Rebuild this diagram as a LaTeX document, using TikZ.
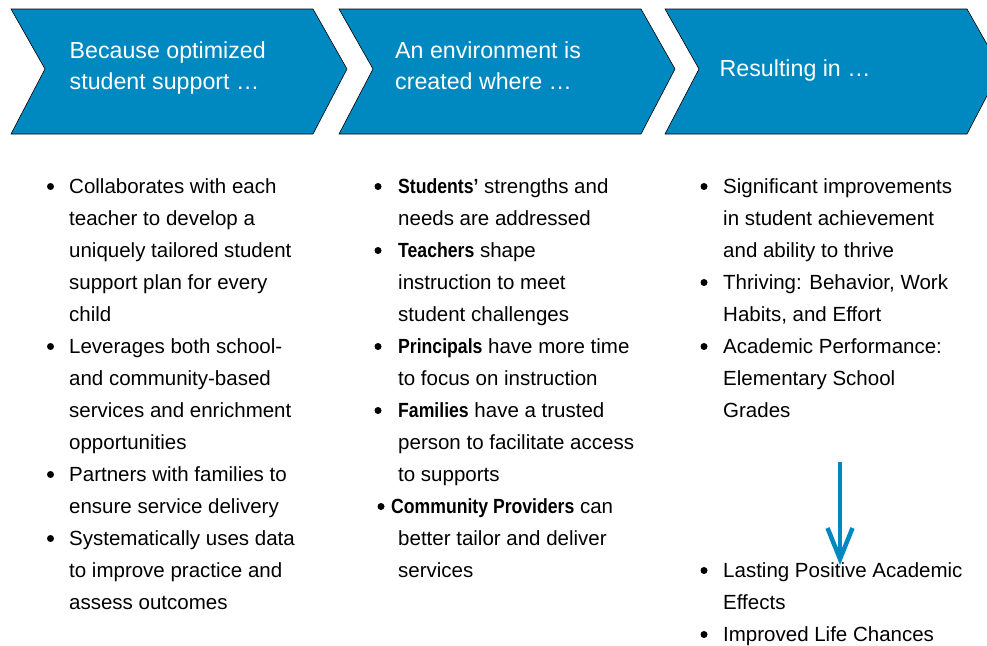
\documentclass[tikz,border=0pt]{standalone}
\usepackage{fontspec}
\setmainfont{Liberation Sans}[BoldFeatures={FakeStretch=0.86}]
\usetikzlibrary{arrows.meta}
\definecolor{chevblue}{RGB}{0,136,192}

\begin{document}
\begin{tikzpicture}[x=1pt,y=-1pt,
  chev/.style={fill=chevblue,draw=black,line width=.6pt},
  head/.style={anchor=north west,yshift=21.7pt,inner sep=0pt,align=left,text=white,font=\fontsize{23.2}{31}\selectfont},
  item/.style={anchor=north west,yshift=22.4pt,inner sep=0pt,align=left,font=\fontsize{20.5}{32}\selectfont},
  dot/.style={circle,fill=black,inner sep=0pt,minimum size=7pt}]
\clip[use as bounding box] (0,0) rectangle (987,645);

% chevrons
\foreach \x in {11,339,665}
  \draw[chev] (\x,9) -- ++(302,0) -- ++(34,60) -- ++(-34,65) -- ++(-302,0) -- ++(34,-65) -- cycle;

\node[head] (h1) at (69.5,58.3) {\strut Because optimized\\student support …};
\node[head] (h2) at (395,58)    {\strut An environment is\\created where …};
\node[head] (h3) at (719.5,76)  {\strut Resulting in …};

% because optimized student support
\node[dot] (d1) at (50.5,186.5) {};
\node[item] (sup1) at (69,193) {\strut Collaborates with each\\teacher to develop a\\uniquely tailored student\\support plan for every\\child};
\node[dot] (d2) at (50.5,346.5) {};
\node[item] (sup2) at (69,353) {\strut Leverages both school-\\and community-based\\services and enrichment\\opportunities};
\node[dot] (d3) at (50.5,474.5) {};
\node[item] (sup3) at (69,481) {\strut Partners with families to\\ensure service delivery};
\node[dot] (d4) at (50.5,538.5) {};
\node[item] (sup4) at (69,545) {\strut Systematically uses data\\to improve practice and\\assess outcomes};

% an environment is created
\node[dot] (d5) at (378,186.5) {};
\node[item] (env1) at (398,193) {\strut\textbf{Students’} strengths and\\needs are addressed};
\node[dot] (d6) at (378,250.5) {};
\node[item] (env2) at (398,257) {\strut\textbf{Teachers} shape\\instruction to meet\\student challenges};
\node[dot] (d7) at (378,346.5) {};
\node[item] (env3) at (398,353) {\strut\textbf{Principals} have more time\\to focus on instruction};
\node[dot] (d8) at (378,410.5) {};
\node[item] (env4) at (398,417) {\strut\textbf{Families} have a trusted\\person to facilitate access\\to supports};
\node[dot] (d9) at (381,506.5) {};
\node[item] (env5) at (391,513) {\strut\textbf{Community Providers} can\\\hspace*{7pt}better tailor and deliver\\\hspace*{7pt}services};

% resulting in
\node[dot] (d10) at (704,186.5) {};
\node[item] (res1) at (723,193) {\strut Significant improvements\\in student achievement\\and ability to thrive};
\node[dot] (d11) at (704,282.5) {};
\node[item] (res2) at (723,289) {\strut Thriving: Behavior, Work\\Habits, and Effort};
\node[dot] (d12) at (704,346.5) {};
\node[item] (res3) at (723,353) {\strut Academic Performance:\\Elementary School\\Grades};
\node[dot] (d13) at (704,570.5) {};
\node[item] (res4) at (723,577) {\strut Lasting Positive Academic\\Effects};
\node[dot] (d14) at (704,634.5) {};
\node[item] (res5) at (723,641) {\strut Improved Life Chances};

\coordinate (atop) at (840,462);
\coordinate (atip) at (840,565);
\draw[-{Straight Barb[length=31pt,width=25pt]},line width=4.5pt,chevblue] (atop) -- (atip);
\end{tikzpicture}
\end{document}
